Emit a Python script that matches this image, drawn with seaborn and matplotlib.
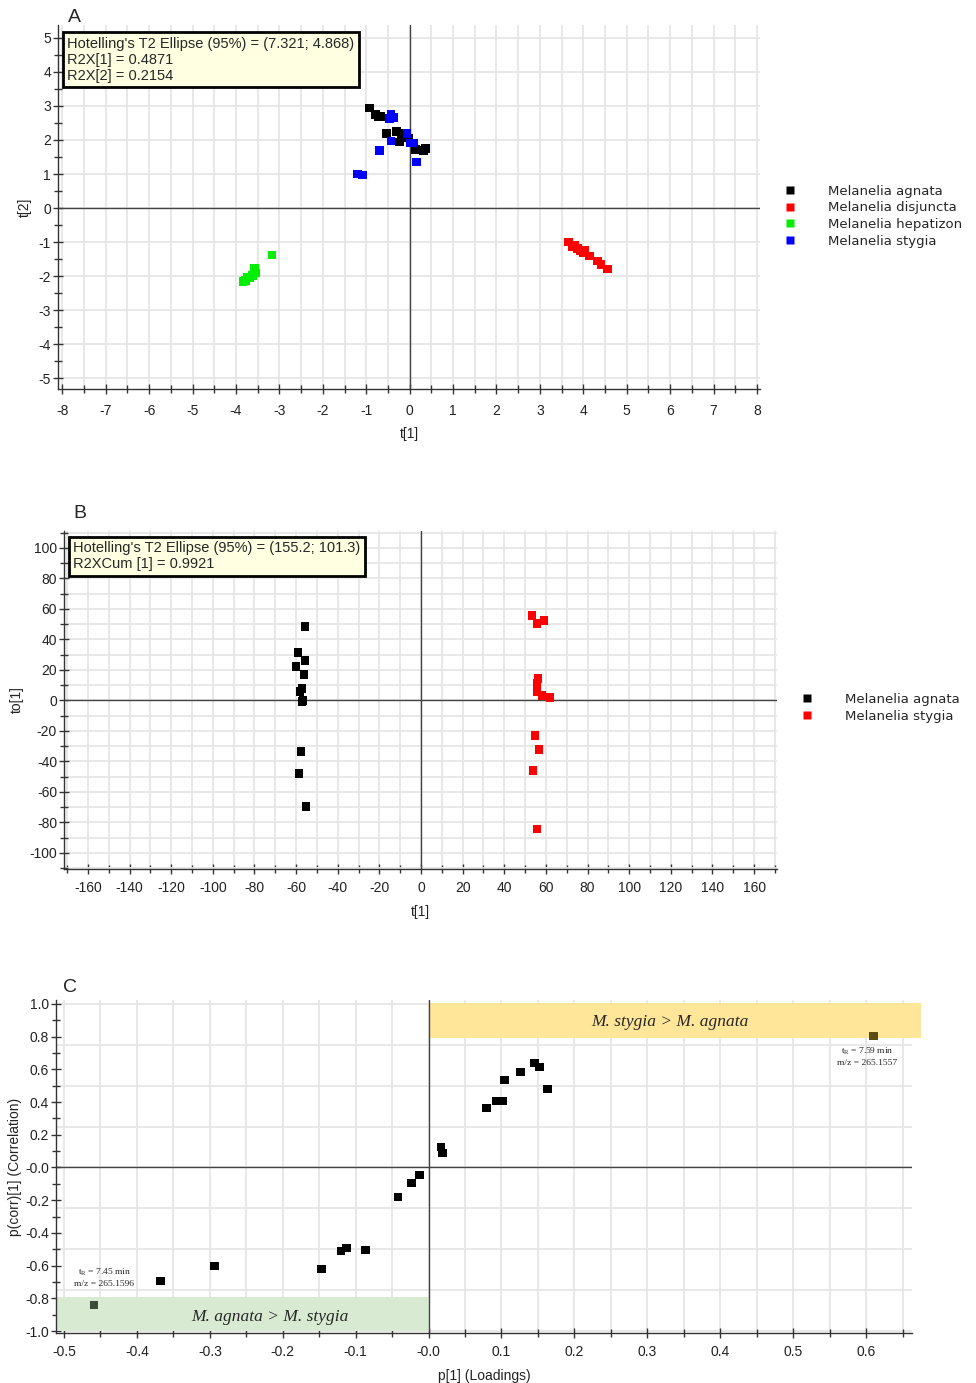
import numpy as np
import pandas as pd
import matplotlib
matplotlib.use("Agg")
import matplotlib.pyplot as plt
from matplotlib.ticker import MultipleLocator, FuncFormatter
from matplotlib.patches import Rectangle
import seaborn as sns

# ---- Panel A: PCA scores t[1] / t[2] ----
agnata_t1 = [-0.93, -0.79, -0.73, -0.66, -0.54, -0.31, -0.20, -0.24, -0.03, 0.13, 0.31, 0.36]
agnata_t2 = [2.94, 2.76, 2.68, 2.70, 2.18, 2.24, 2.18, 1.94, 2.06, 1.71, 1.68, 1.74]
disjuncta_t1 = [3.65, 3.74, 3.81, 3.86, 3.93, 4.00, 4.04, 4.14, 4.32, 4.41, 4.55]
disjuncta_t2 = [-1.00, -1.12, -1.09, -1.18, -1.26, -1.32, -1.24, -1.41, -1.56, -1.65, -1.79]
hepatizon_t1 = [-3.17, -3.58, -3.54, -3.74, -3.79, -3.68, -3.84, -3.62]
hepatizon_t2 = [-1.38, -1.76, -1.91, -2.03, -2.12, -2.06, -2.15, -1.98]
stygia_t1 = [-0.43, -0.47, -0.36, -0.06, 0.01, 0.10, -0.43, -0.70, 0.15, -1.21, -1.09]
stygia_t2 = [2.74, 2.62, 2.65, 2.18, 1.91, 1.91, 1.97, 1.68, 1.35, 1.00, 0.97]
species_a = ["Melanelia agnata", "Melanelia disjuncta", "Melanelia hepatizon", "Melanelia stygia"]
colors_a = ["#000000", "#ff0000", "#00ee00", "#0000ff"]

# ---- Panel B: OPLS-DA scores t[1] / to[1] ----
agnata_b_t1 = [-55.7, -59.1, -55.7, -60.1, -56.2, -57.2, -58.1, -56.7, -57.2, -57.7, -58.6, -55.3]
agnata_b_to1 = [48.4, 31.4, 26.1, 22.2, 17.0, 7.8, 5.9, 0.0, -0.7, -33.3, -47.7, -69.3]
stygia_b_t1 = [53.3, 55.7, 59.1, 56.2, 55.7, 55.7, 58.1, 62.0, 54.8, 56.7, 53.8, 55.7]
stygia_b_to1 = [55.6, 50.3, 52.3, 14.4, 11.1, 5.9, 3.3, 2.0, -22.9, -32.0, -45.8, -84.3]
species_b = ["Melanelia agnata", "Melanelia stygia"]
colors_b = ["#000000", "#ff0000"]

# ---- Panel C: S-plot ----
p1 = [0.017, 0.019, 0.079, 0.093, 0.101, 0.104, 0.126, 0.145, 0.152, 0.163,
      -0.012, -0.023, -0.042, -0.087, -0.113, -0.120, -0.147, -0.294, -0.368]
pcorr = [0.125, 0.089, 0.364, 0.407, 0.407, 0.535, 0.584, 0.639, 0.615, 0.480,
         -0.046, -0.095, -0.180, -0.505, -0.492, -0.511, -0.621, -0.602, -0.694]
marker_p1 = [0.610, -0.459]
marker_pcorr = [0.804, -0.841]
marker_colors = ["#5e4a12", "#3d4b39"]
marker_labels = ["t$_\\mathrm{R}$ = 7.59 min\nm/z = 265.1557",
                 "t$_\\mathrm{R}$ = 7.45 min\nm/z = 265.1596"]

sns.set_theme(style="white")
plt.rcParams["font.family"] = ["Liberation Sans", "DejaVu Sans"]
plt.rcParams["axes.unicode_minus"] = False
plt.rcParams["mathtext.fontset"] = "custom"
plt.rcParams["mathtext.rm"] = "Liberation Serif"

fig = plt.figure(figsize=(9.76, 13.83), dpi=100)
W, H = 976, 1383


def px_axes(l, t, r, b):
    return fig.add_axes([l / W, 1 - b / H, (r - l) / W, (b - t) / H])


def style_axes(ax, xpad=7):
    for s in ["top", "right"]:
        ax.spines[s].set_visible(False)
    for s in ["left", "bottom"]:
        ax.spines[s].set_color("#333333")
        ax.spines[s].set_linewidth(1.0)
    ax.tick_params(which="both", direction="inout", color="#333333", width=1,
                   labelsize=10, labelcolor="#222222", left=True, bottom=True)
    ax.tick_params(which="major", length=7)
    ax.tick_params(which="minor", length=6)
    ax.tick_params(axis="x", which="major", pad=xpad)
    ax.tick_params(axis="y", which="major", pad=1.5)
    ax.set_axisbelow(True)


def info_box(ax, x, y, txt):
    ax.text(x, y, txt, transform=ax.transAxes, ha="left", va="top", fontsize=10.5,
            linespacing=1.2, zorder=6,
            bbox=dict(boxstyle="square,pad=0.3", fc="#ffffe1", ec="black", lw=2))


# ================= A =================
axA = px_axes(58, 25, 760, 389)
dfA = pd.concat([
    pd.DataFrame({"t1": agnata_t1, "t2": agnata_t2, "sp": species_a[0]}),
    pd.DataFrame({"t1": disjuncta_t1, "t2": disjuncta_t2, "sp": species_a[1]}),
    pd.DataFrame({"t1": hepatizon_t1, "t2": hepatizon_t2, "sp": species_a[2]}),
    pd.DataFrame({"t1": stygia_t1, "t2": stygia_t2, "sp": species_a[3]}),
])
sns.scatterplot(data=dfA, x="t1", y="t2", hue="sp", hue_order=species_a,
                palette=colors_a, marker="s", s=40, edgecolor="none", ax=axA, zorder=3)
axA.set_xlim(-8.1, 8.07)
axA.set_ylim(-5.32, 5.38)
axA.xaxis.set_major_locator(MultipleLocator(1))
axA.xaxis.set_minor_locator(MultipleLocator(0.5))
axA.yaxis.set_major_locator(MultipleLocator(1))
axA.yaxis.set_minor_locator(MultipleLocator(0.5))
axA.grid(which="both", axis="x", color="#e6e6e6", lw=1.3)
axA.grid(which="major", axis="y", color="#e6e6e6", lw=1.3)
axA.axhline(0, color="#444444", lw=1, zorder=2)
axA.axvline(0, color="#444444", lw=1, zorder=2)
style_axes(axA)
axA.set_xlabel("t[1]", fontsize=10, color="#222222", labelpad=7)
axA.set_ylabel("t[2]", fontsize=10, color="#222222", labelpad=5)
info_box(axA, 0.013, 0.968,
         "Hotelling's T2 Ellipse (95%) = (7.321; 4.868)\nR2X[1] = 0.4871\nR2X[2] = 0.2154")
sns.move_legend(axA, loc="upper left", bbox_to_anchor=(783 / W, 1 - 184.5 / H),
                bbox_transform=fig.transFigure, frameon=False, title=None,
                handlelength=1, handletextpad=2.4, labelspacing=0.28,
                borderpad=0, borderaxespad=0, prop={"family": "DejaVu Sans", "size": 9.5})
fig.text(74 / W, 1 - 17 / H, "A", fontsize=14, ha="center", va="center")

# ================= B =================
axB = px_axes(64, 531, 777, 869)
dfB = pd.concat([
    pd.DataFrame({"t1": agnata_b_t1, "to1": agnata_b_to1, "sp": species_b[0]}),
    pd.DataFrame({"t1": stygia_b_t1, "to1": stygia_b_to1, "sp": species_b[1]}),
])
sns.scatterplot(data=dfB, x="t1", y="to1", hue="sp", hue_order=species_b,
                palette=colors_b, marker="s", s=40, edgecolor="none", ax=axB, zorder=3)
axB.set_xlim(-171.5, 171)
axB.set_ylim(-110.5, 111)
axB.xaxis.set_major_locator(MultipleLocator(20))
axB.xaxis.set_minor_locator(MultipleLocator(10))
axB.yaxis.set_major_locator(MultipleLocator(20))
axB.yaxis.set_minor_locator(MultipleLocator(10))
axB.grid(which="both", color="#e6e6e6", lw=1.3)
axB.axhline(0, color="#444444", lw=1, zorder=2)
axB.axvline(0, color="#444444", lw=1, zorder=2)
style_axes(axB, xpad=5)
axB.set_xlabel("t[1]", fontsize=10, color="#222222", labelpad=7)
axB.set_ylabel("to[1]", fontsize=10, color="#222222", labelpad=4)
info_box(axB, 0.013, 0.97,
         "Hotelling's T2 Ellipse (95%) = (155.2; 101.3)\nR2XCum [1] = 0.9921")
sns.move_legend(axB, loc="upper left", bbox_to_anchor=(800 / W, 1 - 693 / H),
                bbox_transform=fig.transFigure, frameon=False, title=None,
                handlelength=1, handletextpad=2.4, labelspacing=0.28,
                borderpad=0, borderaxespad=0, prop={"family": "DejaVu Sans", "size": 9.5})
fig.text(80 / W, 1 - 513 / H, "B", fontsize=14, ha="center", va="center")

# ================= C =================
axC = px_axes(56, 1000, 912, 1333)
dfC = pd.DataFrame({"p1": p1, "pcorr": pcorr})
sns.scatterplot(data=dfC, x="p1", y="pcorr", color="black", marker="s", s=40,
                edgecolor="none", ax=axC, zorder=3)
sns.scatterplot(x=marker_p1, y=marker_pcorr, hue=marker_labels, palette=marker_colors,
                marker="s", s=40, edgecolor="none", ax=axC, zorder=3, legend=False)
axC.set_xlim(-0.511, 0.663)
axC.set_ylim(-1.012, 1.024)
axC.xaxis.set_major_locator(MultipleLocator(0.1))
axC.xaxis.set_minor_locator(MultipleLocator(0.05))
axC.yaxis.set_major_locator(MultipleLocator(0.2))
axC.yaxis.set_minor_locator(MultipleLocator(0.1))
fmt = FuncFormatter(lambda v, _: "-0.0" if abs(v) < 1e-9 else f"{v:.1f}")
axC.xaxis.set_major_formatter(fmt)
axC.yaxis.set_major_formatter(fmt)
axC.grid(which="both", axis="x", color="#e6e6e6", lw=1.3)
for gy in np.arange(-1.0, 1.01, 0.25):
    axC.axhline(gy, color="#e6e6e6", lw=1.3, zorder=0)
axC.add_patch(Rectangle((0, 0.792), 0.676, 0.214, fc="#ffe699", ec="none",
                        zorder=1, clip_on=False))
axC.add_patch(Rectangle((-0.511, -1.0), 0.511, 0.207, fc="#d9ead3", ec="none", zorder=1))
axC.axhline(0, color="#444444", lw=1, zorder=2)
axC.axvline(0, color="#444444", lw=1, zorder=2)
style_axes(axC, xpad=5)
axC.set_xlabel("p[1] (Loadings)", fontsize=10, color="#222222", labelpad=7)
axC.set_ylabel("p(corr)[1] (Correlation)", fontsize=10, color="#222222", labelpad=2)
axC.text(0.331, 0.89, "M. stygia > M. agnata", fontsize=12.5, style="italic",
         family="Liberation Serif", ha="center", va="center", zorder=4)
axC.text(-0.217, -0.914, "M. agnata > M. stygia", fontsize=12.5, style="italic",
         family="Liberation Serif", ha="center", va="center", zorder=4)
axC.text(0.6015, 0.682, marker_labels[0], fontsize=6.8, family="Liberation Serif",
         ha="center", va="center", linespacing=1.3, zorder=4)
axC.text(-0.445, -0.67, marker_labels[1], fontsize=6.8, family="Liberation Serif",
         ha="center", va="center", linespacing=1.3, zorder=4)
fig.text(70 / W, 1 - 987 / H, "C", fontsize=14, ha="center", va="center")

fig.savefig("out.png", dpi=100)
